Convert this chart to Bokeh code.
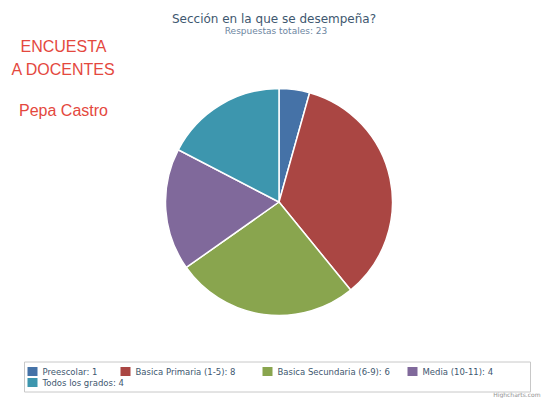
import numpy as np
from bokeh.plotting import figure
from bokeh.models import Range1d
from bokeh.core.properties import value
from bokeh.embed import file_html
from bokeh.resources import INLINE

title = "Sección en la que se desempeña?"
subtitle = "Respuestas totales: 23"
categories = ["Preescolar", "Basica Primaria (1-5)", "Basica Secundaria (6-9)", "Media (10-11)", "Todos los grados"]
counts = [1, 8, 6, 4, 4]
colors = ["#4572A7", "#AA4643", "#89A54E", "#80699B", "#3D96AE"]
side_texts = ["ENCUESTA", "A DOCENTES", "Pepa Castro"]

W, H = 543, 398
p = figure(width=W, height=H, output_backend="svg", toolbar_location=None,
           x_range=Range1d(0, W), y_range=Range1d(0, H), min_border=0)
p.axis.visible = False
p.grid.visible = False
p.outline_line_color = None
p.background_fill_color = "white"
p.border_fill_color = "white"

def Y(v):
    return H - v

# pie
vals = np.array(counts, dtype=float)
frac = vals / vals.sum()
cum = np.concatenate([[0], np.cumsum(frac)])
starts = np.pi / 2 - cum[1:] * 2 * np.pi
ends = np.pi / 2 - cum[:-1] * 2 * np.pi
cx, cy, r = 278.5, Y(201.5), 113.5
p.wedge(x=cx, y=cy, radius=r, start_angle=starts, end_angle=ends,
        fill_color=colors, line_color="white", line_width=1.5)

# titles
p.text(x=[W / 2 + 2], y=[Y(18)], text=[title], text_align="center", text_baseline="middle",
       text_font=value("DejaVu Sans"), text_font_size="12px", text_color="#3E576F")
p.text(x=[W / 2 + 4], y=[Y(30)], text=[subtitle], text_align="center", text_baseline="middle",
       text_font=value("DejaVu Sans"), text_font_size="9px", text_color="#6D869F")

# side texts
for t, yy in zip(side_texts, [46, 69, 110]):
    p.text(x=[63], y=[Y(yy)], text=[t], text_align="center", text_baseline="middle",
           text_font=value("Liberation Sans"), text_font_size="16px", text_color="#e4483e")

# legend box
p.rect(x=[277], y=[Y(376.5)], width=506, height=30, fill_color="white",
       line_color="#C8C8C8", line_width=1)
labels = [f"{c}: {n}" for c, n in zip(categories, counts)]
lx = [27, 120, 262, 407, 27]
ly = [371, 371, 371, 371, 382]
p.rect(x=[x + 5 for x in lx], y=[Y(v) for v in ly], width=10, height=9,
       fill_color=colors, line_color=None)
p.text(x=[x + 15 for x in lx], y=[Y(v) for v in ly], text=labels, text_baseline="middle",
       text_font=value("DejaVu Sans"), text_font_size="8.5px", text_color="#3E576F")

p.text(x=[W - 3], y=[Y(394)], text=["Highcharts.com"], text_align="right", text_baseline="middle",
       text_font=value("DejaVu Sans"), text_font_size="6px", text_color="#909090")

open("out.html", "w").write(file_html(p, INLINE))
